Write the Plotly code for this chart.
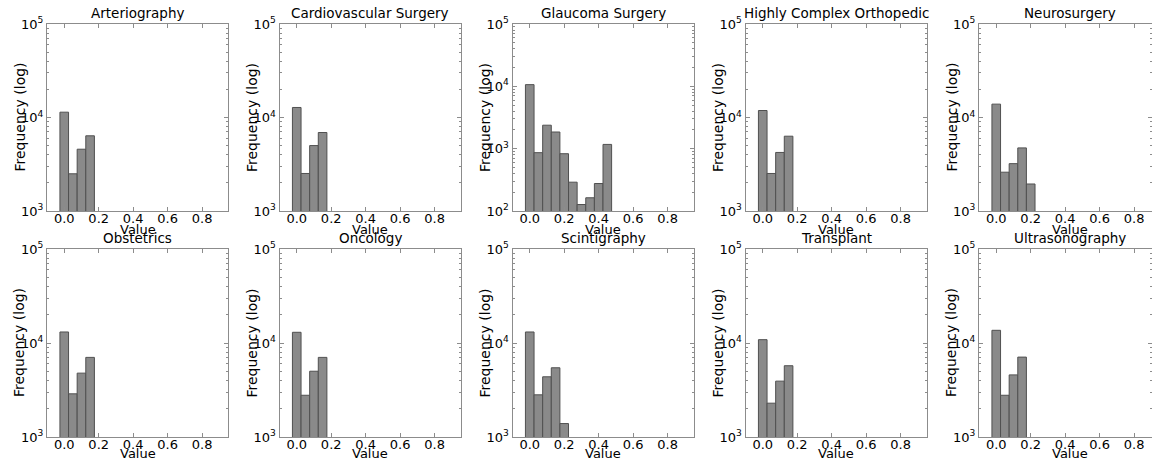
import plotly.graph_objects as go

# ---- data ----
categories = ["Arteriography", "Cardiovascular Surgery", "Glaucoma Surgery",
              "Highly Complex Orthopedic", "Neurosurgery",
              "Obstetrics", "Oncology", "Scintigraphy", "Transplant", "Ultrasonography"]
bin_centers = [0.0, 0.05, 0.10, 0.15, 0.20, 0.25, 0.30, 0.35, 0.40, 0.45]
x_ticks = [0.0, 0.2, 0.4, 0.6, 0.8]
x_tick_labels = ["0.0", "0.2", "0.4", "0.6", "0.8"]

arteriography = [11400, 2500, 4580, 6370]
cardiovascular = [12800, 2520, 5010, 6910]
glaucoma = [10650, 863, 2380, 1850, 830, 290, 127, 163, 276, 1170]
orthopedic = [11880, 2520, 4230, 6310]
neurosurgery = [13900, 2600, 3210, 4730, 1945]
obstetrics = [13100, 2880, 4780, 7030]
oncology = [13000, 2780, 5010, 7030]
scintigraphy = [13100, 2810, 4370, 5450, 1390]
transplant = [10850, 2290, 3930, 5730]
ultrasonography = [13650, 2780, 4580, 7080]

series = [arteriography, cardiovascular, glaucoma, orthopedic, neurosurgery,
          obstetrics, oncology, scintigraphy, transplant, ultrasonography]
y_min_exp = [3, 3, 2, 3, 3, 3, 3, 3, 3, 3]

W, H = 1152, 459
lefts = [47, 279.5, 512.5, 745.5, 979]
panel_w = 181
rows = [(24, 211), (249, 437)]
value_offsets = [18, 16]
XR = [-0.1, 0.95]
FONT = "DejaVu Sans"

fig = go.Figure()
layout = dict(width=W, height=H, margin=dict(l=0, r=0, t=0, b=0, autoexpand=False),
              paper_bgcolor="white", plot_bgcolor="white", showlegend=False,
              font=dict(family=FONT, size=13, color="black"))
annotations = []
axis_col = "#8c8c8c"
for i, (name, vals) in enumerate(zip(categories, series)):
    r, c = divmod(i, 5)
    ax = "" if i == 0 else str(i + 1)
    x0 = lefts[c]
    x1 = x0 + panel_w
    xr = list(XR)
    if x1 > W:
        xr[1] = XR[0] + (XR[1] - XR[0]) * (W - x0) / panel_w
        x1 = W
    top, bot = rows[r]
    fig.add_trace(go.Bar(x=bin_centers[:len(vals)], y=vals, width=0.05,
                         marker=dict(color="#8a8a8a", line=dict(color="#505050", width=1)),
                         xaxis="x" + ax, yaxis="y" + ax))
    emin = y_min_exp[i]
    tv = [10 ** e for e in range(emin, 6)]
    tt = ["10<sup>%d</sup>" % e for e in range(emin, 6)]
    minor_vals = [m * 10 ** e for e in range(emin, 5) for m in range(2, 10)]
    layout["xaxis" + ax] = dict(domain=[x0 / W, x1 / W], range=xr, anchor="y" + ax,
                                tickmode="array", tickvals=x_ticks, ticktext=x_tick_labels,
                                ticks="inside", ticklen=4, tickcolor=axis_col,
                                ticklabelstandoff=-5,
                                showline=True, linecolor=axis_col, linewidth=1, mirror="allticks",
                                showgrid=False, zeroline=False, automargin=False,
                                tickfont=dict(size=13))
    layout["yaxis" + ax] = dict(domain=[(H - bot) / H, (H - top) / H], type="log",
                                range=[emin, 5], anchor="x" + ax,
                                tickmode="array", tickvals=tv, ticktext=tt,
                                ticks="inside", ticklen=4, tickcolor=axis_col,
                                minor=dict(tickmode="array", tickvals=minor_vals,
                                           ticks="inside", ticklen=2, tickcolor=axis_col,
                                           showgrid=False),
                                showline=True, linecolor=axis_col, linewidth=1, mirror="allticks",
                                showgrid=False, zeroline=False, automargin=False,
                                tickfont=dict(size=13))
    cx = (x0 + panel_w / 2) / W
    annotations.append(dict(text=name, x=cx, y=(H - top + 1) / H,
                            xref="paper", yref="paper", xanchor="center", yanchor="bottom",
                            showarrow=False, font=dict(size=13.5)))
    annotations.append(dict(text="Value", x=cx, y=(H - bot - value_offsets[r]) / H,
                            xref="paper", yref="paper", xanchor="center", yanchor="middle",
                            showarrow=False, font=dict(size=13)))
    annotations.append(dict(text="Frequency (log)", x=(x0 - 28) / W, y=(H - (top + bot) / 2) / H,
                            xref="paper", yref="paper", xanchor="center", yanchor="middle",
                            textangle=-90, showarrow=False, font=dict(size=14)))
layout["annotations"] = annotations
fig.update_layout(**layout)
fig.write_html("out.html", config={"displayModeBar": False},
               post_script="document.body.style.margin='0';document.body.style.overflow='hidden';")
